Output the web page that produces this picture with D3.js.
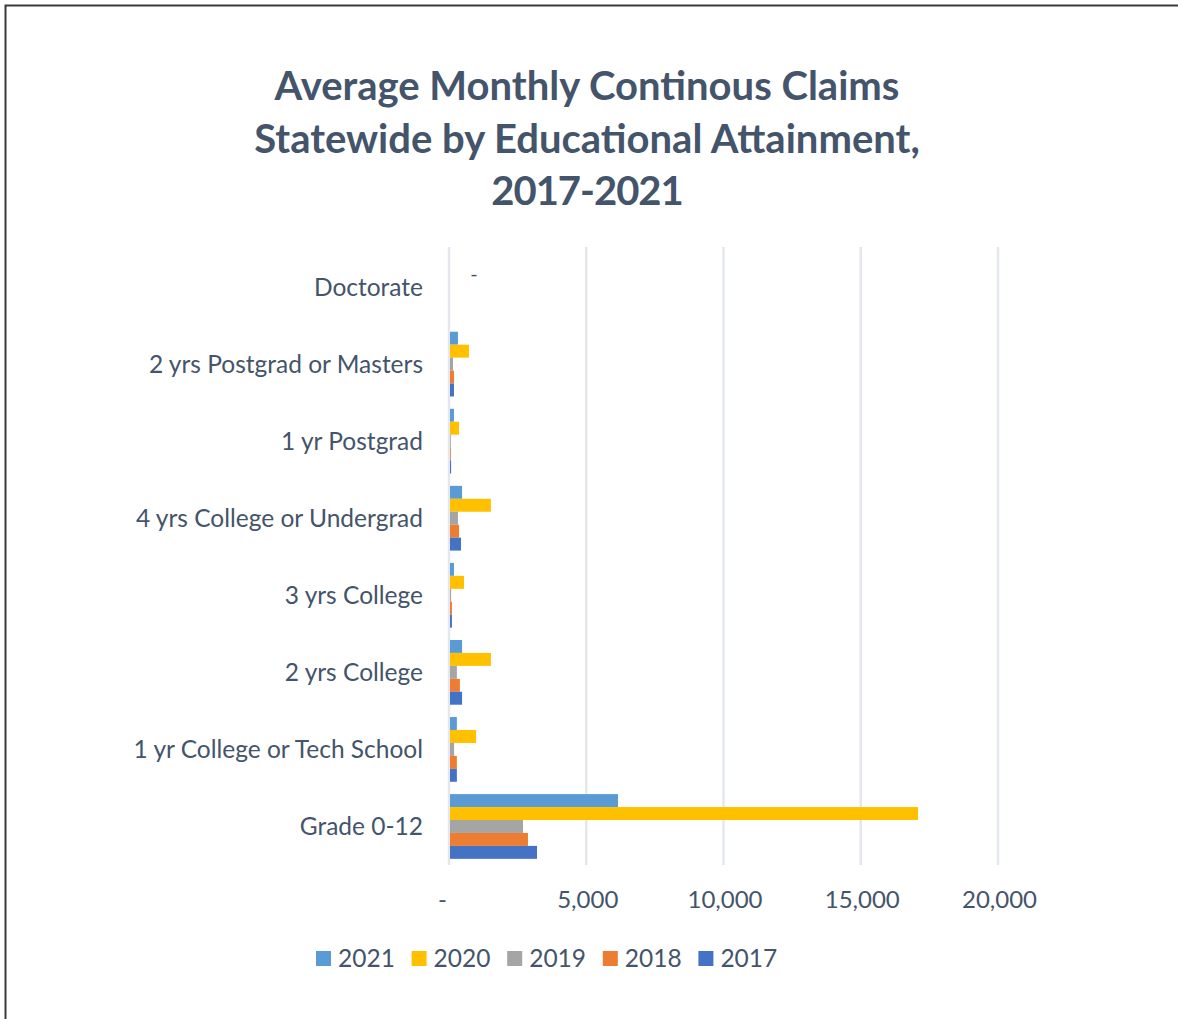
<!DOCTYPE html>
<html><head><meta charset="utf-8">
<script src="https://cdn.jsdelivr.net/npm/d3@7"></script>
<style>body{margin:0;background:#fff;} svg{display:block;}</style>
</head><body>
<svg id="chart" width="1178" height="1019"></svg>
<script>
const categories = ["Grade 0-12","1 yr College or Tech School","2 yrs College","3 yrs College","4 yrs College or Undergrad","1 yr Postgrad","2 yrs Postgrad or Masters","Doctorate"];
const years = ["2021","2020","2019","2018","2017"];
const colors = ["#5B9BD5","#FFC000","#A5A5A5","#ED7D31","#4472C4"];
const v2021 = [6120, 250, 440, 145, 440, 145, 290, 0];
const v2020 = [17050, 950, 1490, 510, 1490, 330, 690, 0];
const v2019 = [2660, 150, 250, 40, 290, 30, 110, 0];
const v2018 = [2840, 250, 360, 70, 330, 30, 145, 0];
const v2017 = [3170, 250, 440, 70, 400, 40, 145, 0];
const series = [v2021, v2020, v2019, v2018, v2017];
const xTicks = [0, 5000, 10000, 15000, 20000];
const titleLines = ["Average Monthly Continous Claims","Statewide by Educational Attainment,","2017-2021"];

const svg = d3.select("#chart");
const textColor = "#44546A";
const font = "Lato, 'Open Sans', sans-serif";

// border
svg.append("path").attr("d","M5.5,1019 L5.5,5.5 L1178,5.5").attr("fill","none").attr("stroke","#3a3a3a").attr("stroke-width",2);

// title
const tY = [86, 139, 191];
titleLines.forEach((t,i)=>{
  svg.append("text").attr("x",587).attr("y",tY[i]+14).attr("text-anchor","middle")
    .attr("font-family",font).attr("font-weight","bold").attr("font-size",40)
    .attr("letter-spacing", i===2 ? "-1px" : "0px")
    .attr("fill",textColor).text(t);
});

const x = d3.scaleLinear().domain([0,20000]).range([450,999]);
const y = d3.scaleBand().domain(categories.slice().reverse()).range([248.5,865]).paddingInner(0.16).paddingOuter(0.08);
const yInner = d3.scaleBand().domain(years).range([0,y.bandwidth()]);

// gridlines
svg.append("g").selectAll("line").data(xTicks).join("line")
  .attr("x1",d=>x(d)-1).attr("x2",d=>x(d)-1).attr("y1",247).attr("y2",865)
  .attr("stroke","#E4E8EE").attr("stroke-width",2.5);

// bars
categories.forEach((c,ci)=>{
  years.forEach((yr,si)=>{
    const val = series[si][ci];
    if(val>0){
      svg.append("rect").attr("x",x(0)).attr("y",y(c)+yInner(yr))
        .attr("width",x(val)-x(0)).attr("height",yInner.bandwidth()).attr("fill",colors[si]);
    }
  });
});

// zero data label for Doctorate
svg.append("text").attr("x",x(0)+24).attr("y",y("Doctorate")+yInner("2020")+yInner.bandwidth()/2+7)
  .attr("text-anchor","middle").attr("font-family",font).attr("font-size",20).attr("fill",textColor).text("-");

// category labels
const yAxis = d3.axisLeft(y).tickSize(0).tickPadding(0);
const gy = svg.append("g").attr("transform","translate(423,0)").call(yAxis);
gy.select(".domain").remove();
gy.selectAll("text").attr("font-family",font).attr("font-size",24.5).attr("fill",textColor).attr("dy","0.35em");

// x axis labels
const xAxis = d3.axisBottom(x).tickValues(xTicks).tickSize(0).tickPadding(0).tickFormat(d=> d===0 ? "-" : d3.format(",")(d));
const gx = svg.append("g").attr("transform","translate(0,908)").call(xAxis);
gx.select(".domain").remove();
gx.selectAll("text").attr("font-family",font).attr("font-size",24).attr("fill",textColor).attr("dy","0");
gx.selectAll(".tick").filter(d=>d===0).select("text").attr("dx",-8);

// legend
const lg = svg.append("g");
years.forEach((yr,i)=>{
  const lx = 316 + i*95.6;
  lg.append("rect").attr("x",lx).attr("y",951).attr("width",15).attr("height",15).attr("fill",colors[i]);
  lg.append("text").attr("x",lx+22).attr("y",967).attr("font-family",font).attr("font-size",24.5).attr("fill",textColor).text(yr);
});
</script>
</body></html>
